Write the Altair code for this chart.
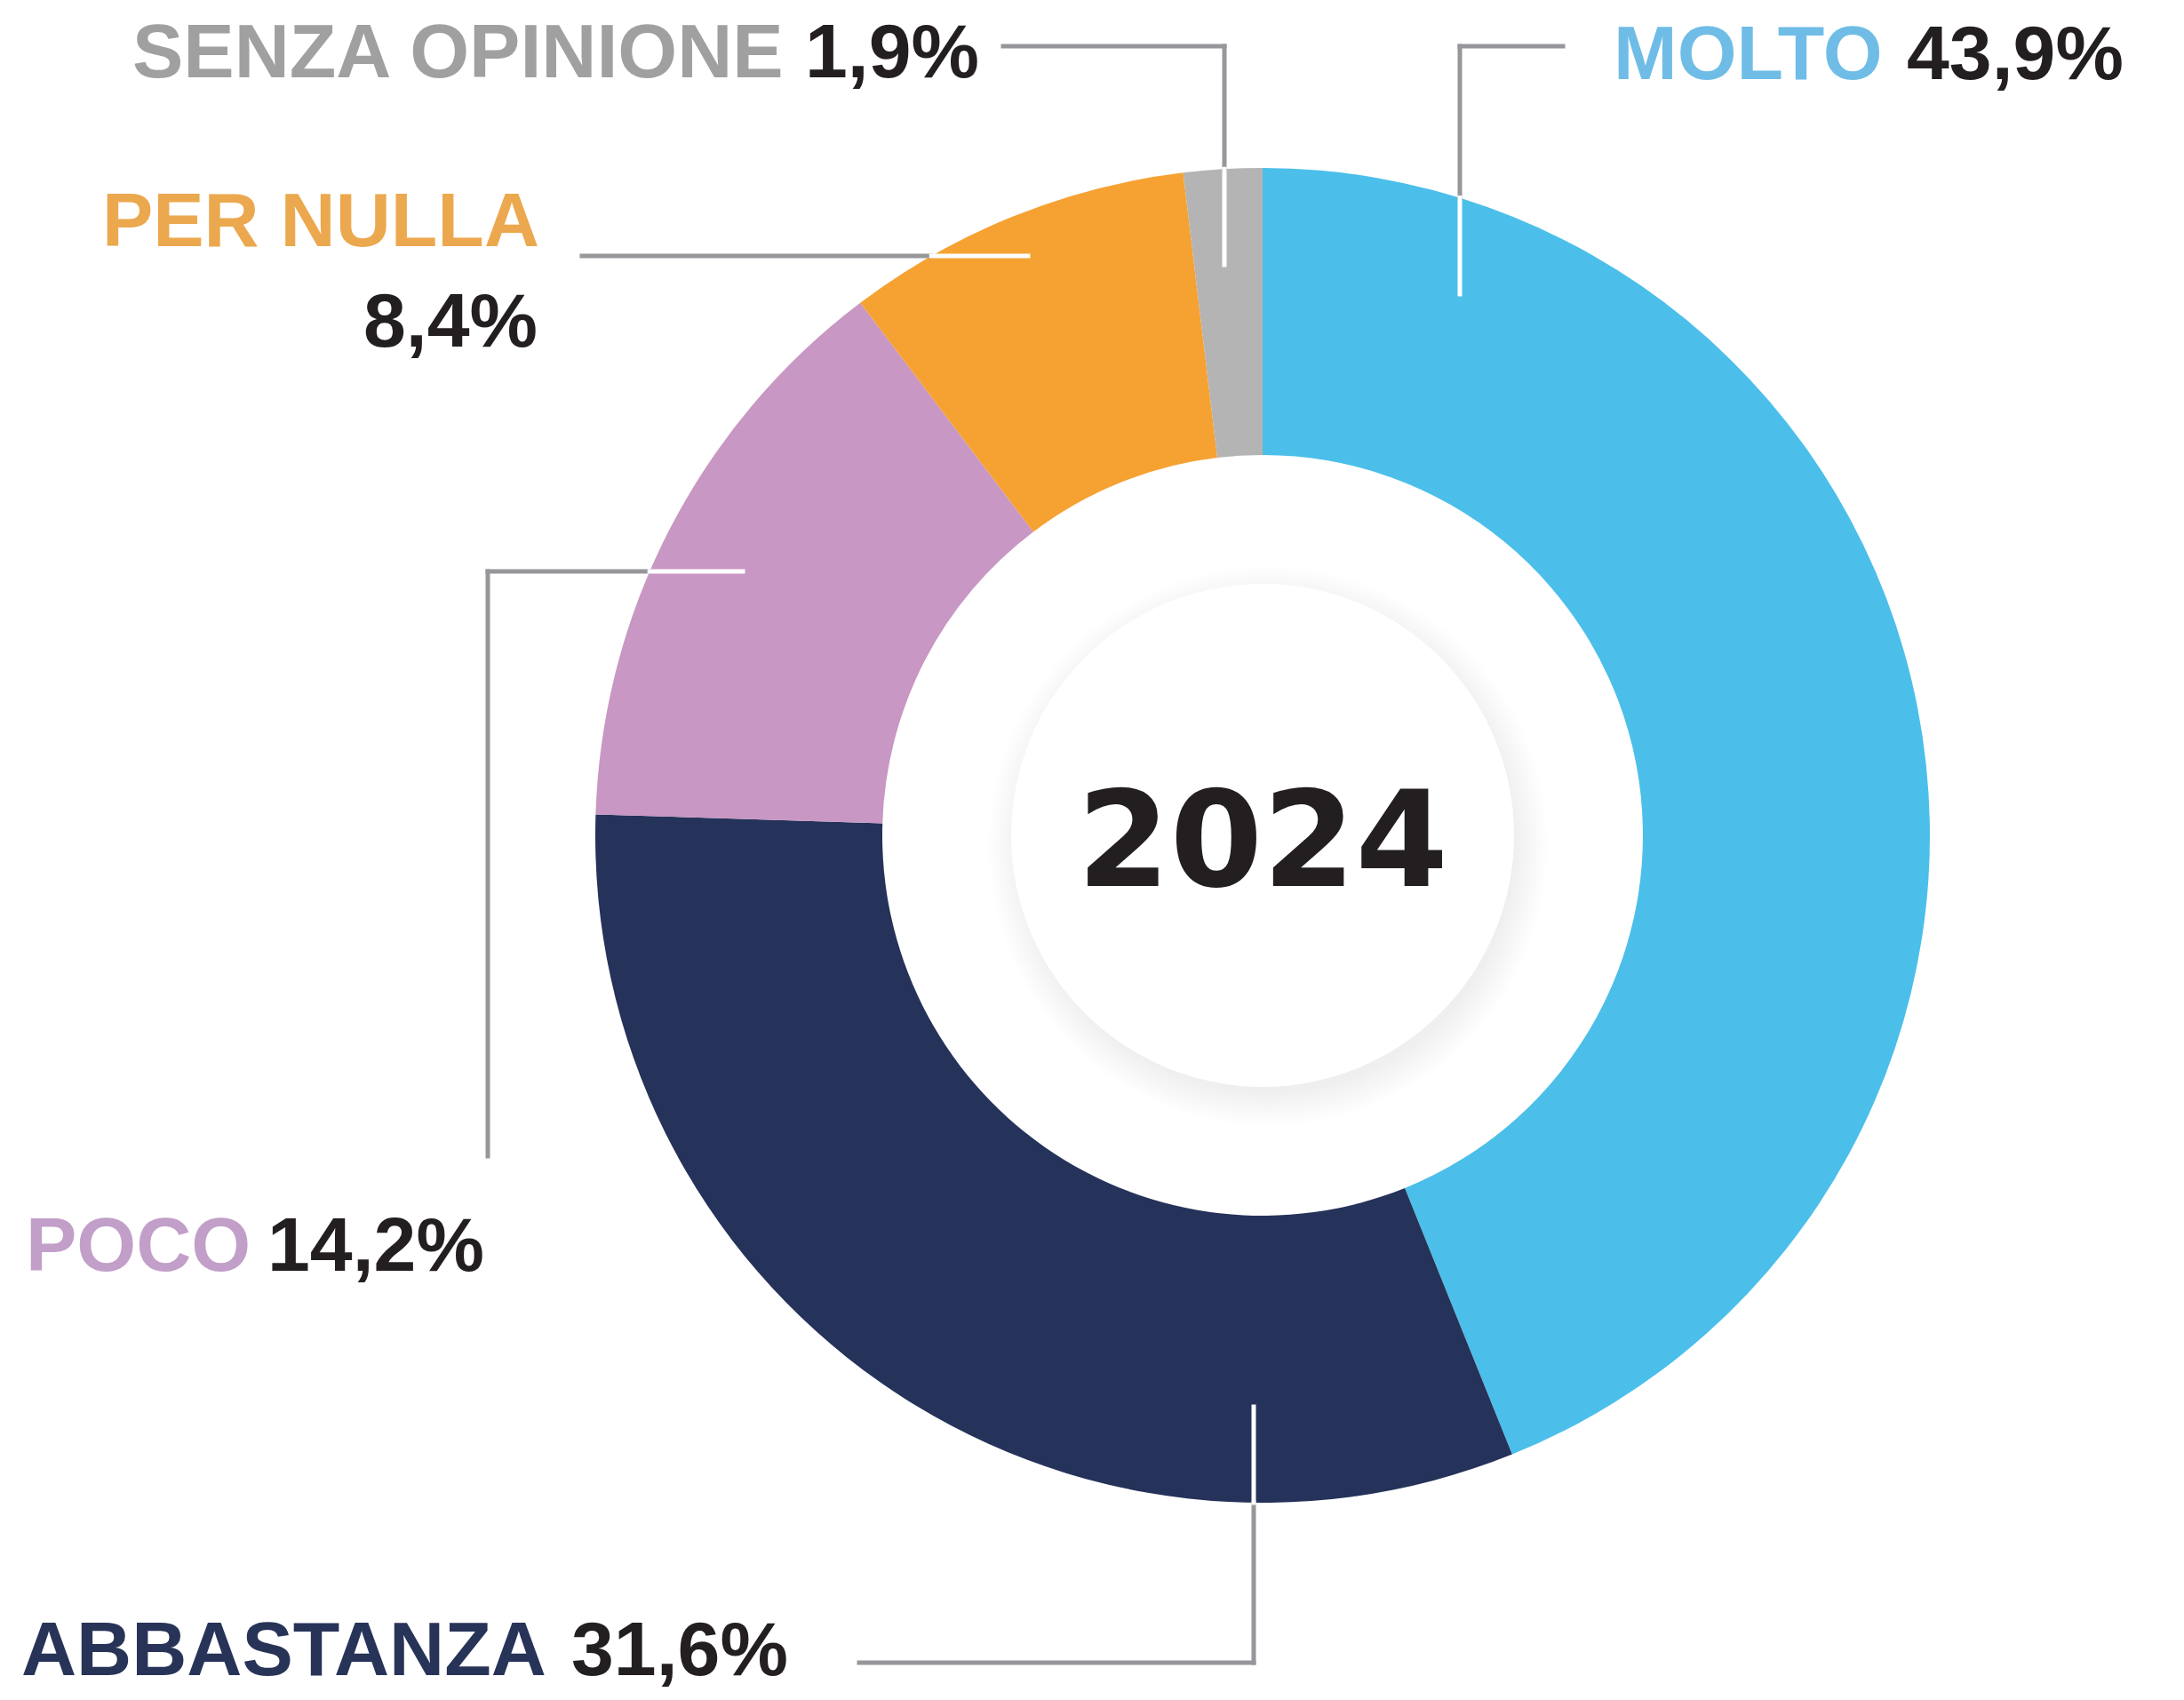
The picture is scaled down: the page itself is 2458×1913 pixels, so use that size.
import math
import altair as alt
import pandas as pd

# ---------------- data ----------------
categories = ["MOLTO", "ABBASTANZA", "POCO", "PER NULLA", "SENZA OPINIONE"]
values = [43.9, 31.6, 14.2, 8.4, 1.9]
value_labels = ["43,9%", "31,6%", "14,2%", "8,4%", "1,9%"]
slice_colors = ["#4bbfea", "#25325a", "#c897c3", "#f5a233", "#b4b4b4"]
label_colors = ["#6fbde6", "#283358", "#c29fc8", "#eba84e", "#a0a0a0"]
year = "2024"

# ---------------- layout (page coordinates) ----------------
W, H, M = 2458, 1913, 8
CX, CY = 1421, 940
R_OUT, R_IN, R_HUB = 751, 428, 283
FONT = "Liberation Sans, Arial, Helvetica, sans-serif"
LABEL_SIZE = 86
TEXT_DARK = "#231f20"
LEADER_GRAY = "#97979b"

# name: (name_x, name_y, name_align, value_x, value_y, value_align)
label_pos = {
    "MOLTO": (1816, 89, "left", 2146, 89, "left"),
    "ABBASTANZA": (24, 1885, "left", 643, 1885, "left"),
    "POCO": (29, 1430, "left", 301, 1430, "left"),
    "PER NULLA": (607, 277, "right", 605, 390, "right"),
    "SENZA OPINIONE": (149, 87, "left", 906, 87, "left"),
}
leader_paths = {
    "MOLTO": [(1759, 52), (1643, 52), (1643, 331)],
    "ABBASTANZA": [(967, 1871), (1411, 1871), (1411, 1583)],
    "POCO": [(549, 1301), (549, 643), (836, 643)],
    "PER NULLA": [(655, 288), (1157, 288)],
    "SENZA OPINIONE": [(1129, 52), (1378, 52), (1378, 298)],
}

xs = alt.Scale(domain=[M, W - M], nice=False, zero=False)
ys = alt.Scale(domain=[H - M, M], nice=False, zero=False)

# ---------------- donut ----------------
df = pd.DataFrame({
    "category": categories,
    "value": values,
    "idx": list(range(len(categories))),
})
donut = alt.Chart(df).mark_arc(radius=R_OUT, innerRadius=R_IN).encode(
    theta=alt.Theta("value:Q", stack=True),
    order=alt.Order("idx:Q", sort="ascending"),
    color=alt.Color("category:N", scale=alt.Scale(domain=categories, range=slice_colors), legend=None),
    x=alt.value(CX - M),
    y=alt.value(CY - M),
)

# ---------------- hub with soft shadow ----------------
layers = [donut]
for k in range(16):
    layers.append(
        alt.Chart(pd.DataFrame({"a": [0]})).mark_arc(
            radius=R_HUB - 6 + 2.5 * k, innerRadius=0, theta=0, theta2=2 * math.pi,
            color="#8a8a8a", opacity=0.012,
        ).encode(x=alt.value(CX - M + 6), y=alt.value(CY - M + 12))
    )
layers.append(
    alt.Chart(pd.DataFrame({"a": [0]})).mark_arc(
        radius=R_HUB, innerRadius=0, theta=0, theta2=2 * math.pi, color="white",
    ).encode(x=alt.value(CX - M), y=alt.value(CY - M))
)

# ---------------- leader lines ----------------
def split(p0, p1):
    dx, dy = p1[0] - p0[0], p1[1] - p0[1]
    fx, fy = p0[0] - CX, p0[1] - CY
    a = dx * dx + dy * dy
    b = 2 * (fx * dx + fy * dy)
    c = fx * fx + fy * fy - R_OUT * R_OUT
    ts = [0.0, 1.0]
    disc = b * b - 4 * a * c
    if disc > 0:
        for s in (-1, 1):
            t = (-b + s * math.sqrt(disc)) / (2 * a)
            if 0 < t < 1:
                ts.append(t)
    ts.sort()
    out = []
    for t0, t1 in zip(ts[:-1], ts[1:]):
        tm = (t0 + t1) / 2
        mx, my = p0[0] + tm * dx, p0[1] + tm * dy
        inside = (mx - CX) ** 2 + (my - CY) ** 2 < R_OUT ** 2
        out.append(dict(x=p0[0] + t0 * dx, y=p0[1] + t0 * dy,
                        x2=p0[0] + t1 * dx, y2=p0[1] + t1 * dy,
                        col="white" if inside else LEADER_GRAY))
    return out

segs = []
for cat in categories:
    pts = leader_paths[cat]
    for p0, p1 in zip(pts[:-1], pts[1:]):
        segs.extend(split(p0, p1))
seg_df = pd.DataFrame(segs)
leaders = alt.Chart(seg_df).mark_rule(strokeWidth=5, strokeCap="square").encode(
    x=alt.X("x:Q", scale=xs, axis=None),
    y=alt.Y("y:Q", scale=ys, axis=None),
    x2="x2:Q",
    y2="y2:Q",
    color=alt.Color("col:N", scale=None),
)
layers.append(leaders)

# ---------------- labels ----------------
rows = []
for i, cat in enumerate(categories):
    nx, ny, na, vx, vy, va = label_pos[cat]
    rows.append(dict(x=nx, y=ny, text=cat, col=label_colors[i], align=na))
    rows.append(dict(x=vx, y=vy, text=value_labels[i], col=TEXT_DARK, align=va))
lab_df = pd.DataFrame(rows)
for al in ("left", "right"):
    sub = lab_df[lab_df["align"] == al]
    if len(sub) == 0:
        continue
    layers.append(
        alt.Chart(sub).mark_text(
            align=al, baseline="alphabetic", font=FONT, fontWeight="bold", fontSize=LABEL_SIZE,
        ).encode(
            x=alt.X("x:Q", scale=xs, axis=None),
            y=alt.Y("y:Q", scale=ys, axis=None),
            text="text:N",
            color=alt.Color("col:N", scale=None),
        )
    )

# ---------------- centre year ----------------
layers.append(
    alt.Chart(pd.DataFrame({"x": [CX], "y": [997], "t": [year]})).mark_text(
        align="center", baseline="alphabetic", font="DejaVu Sans", fontWeight="bold",
        fontSize=150, color=TEXT_DARK,
    ).encode(
        x=alt.X("x:Q", scale=xs, axis=None),
        y=alt.Y("y:Q", scale=ys, axis=None),
        text="t:N",
    )
)

chart = alt.layer(*layers).properties(
    width=W - 2 * M, height=H - 2 * M, padding=0,
    autosize=alt.AutoSizeParams(type="none"),
).configure_view(strokeWidth=0)

chart.save("out.html", embed_options={"renderer": "svg", "actions": False})
